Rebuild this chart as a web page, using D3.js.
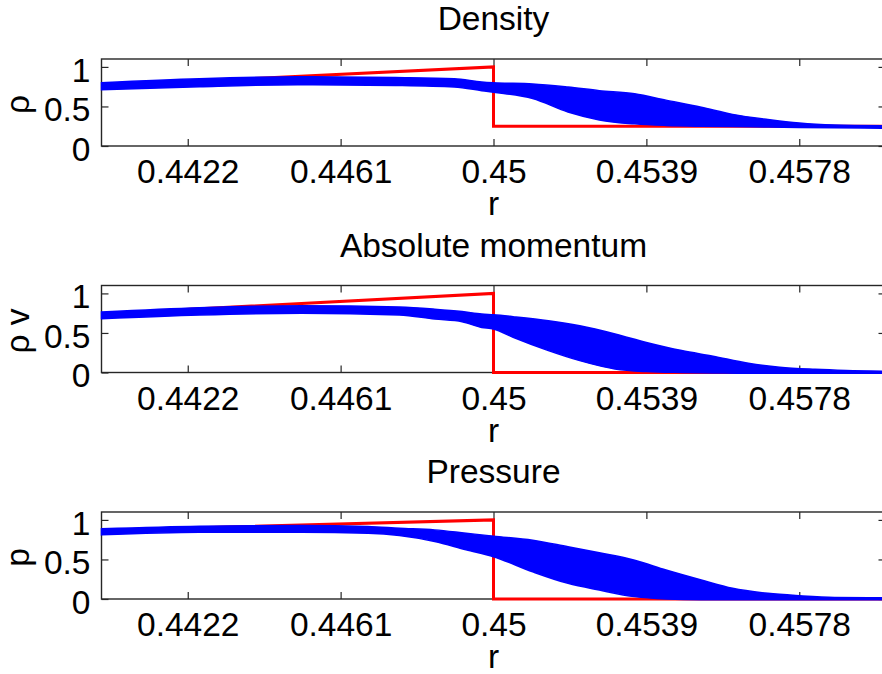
<!DOCTYPE html>
<html>
<head>
<meta charset="utf-8">
<script src="https://cdn.jsdelivr.net/npm/d3@7"></script>
<style>
  body { margin: 0; background: #fff; }
  svg { display: block; font-family: "Liberation Sans", Arial, sans-serif; }
</style>
</head>
<body>
<svg id="chart" width="882" height="674"></svg>
<script>
// tick positions and labels
const xTicks = [0.4422, 0.4461, 0.45, 0.4539, 0.4578];
const xTickLabels = ["0.4422", "0.4461", "0.45", "0.4539", "0.4578"];
const yTicks = [0, 0.5, 1];
const yTickLabels = ["0", "0.5", "1"];

const titles = ["Density", "Absolute momentum", "Pressure"];
const yLabels = ["ρ", "ρ v", "p"];

// exact solution (red)
const exactR = [0.44, 0.45, 0.45, 0.46];
const densityExact = [0.76, 1.0, 0.25, 0.25];
const momentumExact = [0.74, 1.0, 0, 0];
const pressureExact = [0.87, 1.0, 0, 0];

// particle cloud (blue), upper / lower edge
const densityR = [0.44, 0.4425, 0.445, 0.4475, 0.449, 0.4497, 0.45, 0.451, 0.4519, 0.4527, 0.4536, 0.4544, 0.4553, 0.4561, 0.457, 0.4578, 0.4587, 0.46];
const densityUpper = [0.80, 0.85, 0.875, 0.865, 0.85, 0.81, 0.80, 0.785, 0.745, 0.70, 0.66, 0.58, 0.49, 0.40, 0.335, 0.29, 0.265, 0.255];
const densityLower = [0.71, 0.75, 0.775, 0.765, 0.745, 0.70, 0.68, 0.60, 0.43, 0.33, 0.28, 0.26, 0.25, 0.245, 0.24, 0.235, 0.23, 0.225];

const momentumR = [0.44, 0.4425, 0.4451, 0.4476, 0.4485, 0.4492, 0.4497, 0.45, 0.4505, 0.4514, 0.4522, 0.4531, 0.4539, 0.4548, 0.4556, 0.4565, 0.4573, 0.4582, 0.459, 0.46];
const momentumUpper = [0.765, 0.82, 0.845, 0.827, 0.80, 0.77, 0.74, 0.73, 0.706, 0.655, 0.59, 0.487, 0.38, 0.277, 0.205, 0.117, 0.067, 0.04, 0.025, 0.015];
const momentumLower = [0.68, 0.727, 0.75, 0.727, 0.676, 0.643, 0.57, 0.55, 0.445, 0.277, 0.15, 0.045, 0.012, 0, -0.005, -0.01, -0.01, -0.01, -0.01, -0.01];

const pressureR = [0.44, 0.4425, 0.4451, 0.4468, 0.4476, 0.4485, 0.4493, 0.45, 0.451, 0.4519, 0.4527, 0.4536, 0.4544, 0.4553, 0.4561, 0.457, 0.4578, 0.4587, 0.46];
const pressureUpper = [0.887, 0.92, 0.93, 0.917, 0.895, 0.874, 0.832, 0.795, 0.744, 0.66, 0.584, 0.49, 0.366, 0.24, 0.135, 0.072, 0.042, 0.02, 0.015];
const pressureLower = [0.811, 0.845, 0.845, 0.832, 0.803, 0.728, 0.622, 0.535, 0.344, 0.198, 0.113, 0.03, 0, -0.01, -0.01, -0.01, -0.01, -0.01, -0.01];

const panels = [
  { title: titles[0], ylabel: yLabels[0], exact: densityExact, r: densityR, upper: densityUpper, lower: densityLower },
  { title: titles[1], ylabel: yLabels[1], exact: momentumExact, r: momentumR, upper: momentumUpper, lower: momentumLower },
  { title: titles[2], ylabel: yLabels[2], exact: pressureExact, r: pressureR, upper: pressureUpper, lower: pressureLower }
];

const fontSize = 33.5;
const left = 101.5, right = 885.5;
const plotH = 87;
const tops = [59, 285.5, 512];
const tickLen = 7;

const svg = d3.select("#chart");
const x = d3.scaleLinear().domain([0.44, 0.46]).range([left, right]);

panels.forEach((p, i) => {
  const top = tops[i];
  const bottom = top + plotH;
  const y = d3.scaleLinear().domain([0, 1.1]).range([bottom, top]);

  const g = svg.append("g");

  // box + inward ticks drawn first, data goes over them
  g.append("rect")
    .attr("x", left).attr("y", top)
    .attr("width", right - left).attr("height", plotH)
    .attr("fill", "none")
    .attr("stroke", "#262626")
    .attr("stroke-width", 1.4);

  g.append("g")
    .attr("transform", `translate(0,${bottom})`)
    .call(d3.axisBottom(x).tickValues(xTicks)
      .tickFormat((d, k) => xTickLabels[k])
      .tickSizeInner(-tickLen).tickSizeOuter(0).tickPadding(13.5));
  g.append("g")
    .attr("transform", `translate(0,${top})`)
    .call(d3.axisTop(x).tickValues(xTicks).tickFormat("")
      .tickSizeInner(-tickLen).tickSizeOuter(0));
  const yl = g.append("g")
    .attr("transform", `translate(${left},0)`)
    .call(d3.axisLeft(y).tickValues(yTicks)
      .tickFormat((d, k) => yTickLabels[k])
      .tickSizeInner(-tickLen).tickSizeOuter(0).tickPadding(11));
  g.append("g")
    .attr("transform", `translate(${right},0)`)
    .call(d3.axisRight(y).tickValues(yTicks).tickFormat("")
      .tickSizeInner(-tickLen).tickSizeOuter(0));

  g.selectAll(".domain").remove();
  g.selectAll(".tick line").attr("stroke", "#262626").attr("stroke-width", 1.2);
  g.selectAll(".tick text")
    .attr("font-size", fontSize)
    .attr("font-family", "Liberation Sans, Arial, sans-serif")
    .attr("fill", "#000");
  yl.selectAll(".tick text").attr("dy", "0.43em");

  g.append("clipPath").attr("id", "clip" + i)
    .append("rect")
    .attr("x", left - 2).attr("y", top - 2)
    .attr("width", right - left + 4).attr("height", plotH + 4);

  const plot = g.append("g").attr("clip-path", `url(#clip${i})`);

  // exact solution
  const exactPts = exactR.map((r, k) => [r, p.exact[k]]);
  plot.append("path")
    .datum(exactPts)
    .attr("fill", "none")
    .attr("stroke", "#ff0000")
    .attr("stroke-width", 3)
    .attr("d", d3.line().x(d => x(d[0])).y(d => y(d[1])));

  // particle cloud
  const band = p.r.map((r, k) => ({ r: r, hi: p.upper[k], lo: p.lower[k] }));
  plot.append("path")
    .datum(band)
    .attr("fill", "#0000ff")
    .attr("stroke", "#0000ff")
    .attr("stroke-width", 1.5)
    .attr("d", d3.area()
      .curve(d3.curveMonotoneX)
      .x(d => x(d.r))
      .y0(d => y(d.lo))
      .y1(d => y(d.hi)));

  // title, axis labels
  g.append("text")
    .attr("x", (left + right) / 2).attr("y", top - 29)
    .attr("text-anchor", "middle")
    .attr("font-size", fontSize)
    .text(p.title);

  g.append("text")
    .attr("x", (left + right) / 2).attr("y", bottom + 69)
    .attr("text-anchor", "middle")
    .attr("font-size", fontSize)
    .text("r");

  g.append("text")
    .attr("transform", `translate(28.5,${(top + bottom) / 2 + 2}) rotate(-90)`)
    .attr("text-anchor", "middle")
    .attr("font-size", fontSize)
    .text(p.ylabel);
});
</script>
</body>
</html>
